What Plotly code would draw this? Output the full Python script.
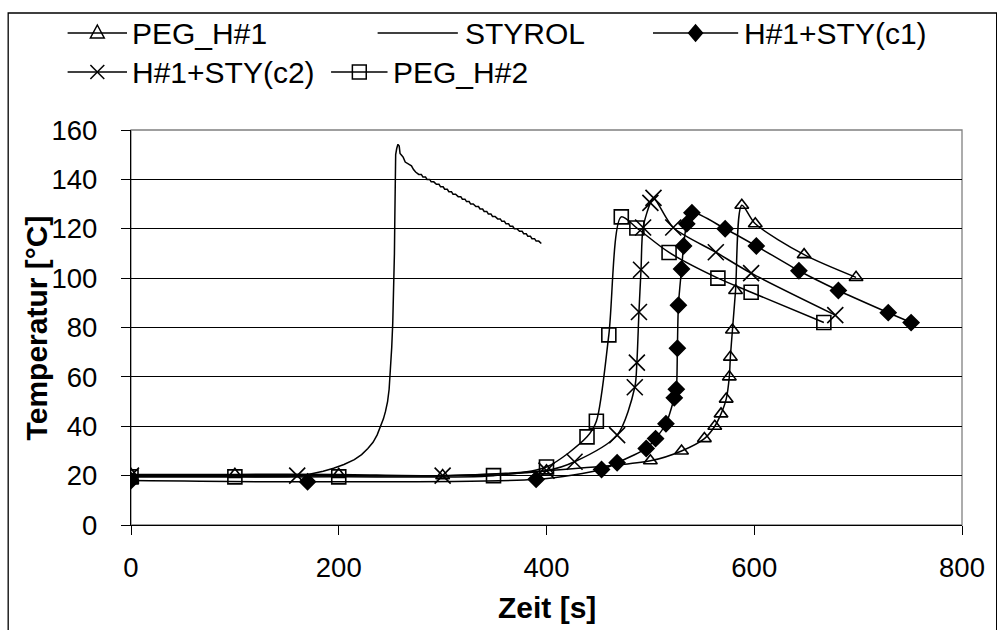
import plotly.graph_objects as go

# ---------------- data ----------------
peg_h1_t = [0, 100, 200, 300, 400, 500, 530, 552, 562, 568, 573, 576, 577, 579, 582, 588, 601, 648, 698]
peg_h1_T = [20.5, 20.5, 20.5, 20, 22, 26, 30, 35, 40, 45, 51, 60, 68, 79, 95, 129.5, 122, 109.5, 100.3]

styrol_t = [0, 30, 60, 90, 120, 150, 165, 175, 185, 195, 205, 215, 222, 228, 233, 237, 240, 243, 245,
            247, 248.5, 250, 251, 252, 253, 253.6, 254, 254.3, 254.8, 255.8, 257, 258.2, 259, 260.5,
            262, 264, 266, 268, 270, 272, 274,
            277, 279.5, 281, 283.5, 285, 287.5, 289, 291.5, 294, 296.5, 298, 300.5, 302, 304.5,
            306, 308.5, 310, 312.5, 315, 317.5, 319, 321.5, 323, 325.5, 327, 329.5, 332, 334.5,
            336, 338.5, 340, 342.5, 344, 346.5, 348, 350.5, 353, 355.5, 357, 359.5, 361, 363.5,
            365, 367.5, 369, 371.5, 374, 376.5, 378, 380.5, 382, 384.5, 386, 388.5, 390, 392.5, 395]
styrol_T = [19.5, 19.5, 19.5, 19.5, 19.5, 19.6, 20, 20.8, 21.8, 23, 24.5, 26.5, 28.5, 31, 33.5, 36.5, 39.5, 43, 46,
            50, 55, 63, 72, 82, 95, 110, 125, 145, 150, 152.5, 154.2, 153.5, 150.5, 149.8,
            149, 147, 146.5, 146, 145.5, 144, 143,
            142, 142, 141, 141, 140, 140, 139, 139, 138, 138, 137, 137, 136, 136,
            135, 135, 134, 134, 133, 133, 132, 132, 131, 131, 130, 130, 129, 129,
            128, 128, 127, 127, 126, 126, 125, 125, 124, 124, 123, 123, 122, 122,
            121, 121, 120, 120, 119, 119, 118, 118, 117, 117, 116, 116, 115, 115, 114]

c1_t = [0, 170, 390, 453, 468, 496, 505, 515, 523, 525, 526, 527, 530, 532, 535, 540, 572, 602, 643, 681, 729, 751]
c1_T = [18, 17.5, 18.5, 22.5, 25.2, 31, 35, 41, 51.5, 55, 71.6, 89, 103.7, 113, 122, 126.5, 120, 113, 103, 95, 86, 82]

c2_t = [0, 160, 300, 400, 427, 468, 485, 487, 489, 491, 493, 500, 503, 522, 563, 597, 678]
c2_T = [20, 20, 20, 22, 25.6, 36.4, 55.8, 65.8, 86.3, 103.4, 120.5, 130.5, 132.5, 120.5, 110.5, 102, 85]

peg_h2_t = [0, 100, 200, 349, 400, 439, 448, 460, 472, 487, 518, 565, 597, 667]
peg_h2_T = [19.5, 19.5, 19.5, 20, 23.5, 35.7, 42, 77, 124.8, 120.3, 110.4, 100, 94.3, 82]

x_ticks = [0, 200, 400, 600, 800]
y_ticks = [0, 20, 40, 60, 80, 100, 120, 140, 160]
x_title = "Zeit [s]"
y_title = "Temperatur [°C]"

# ---------------- layout geometry (pixels) ----------------
W, H = 997, 630
L, R, T, B = 131, 970, 130, 525
XMAX, YMAX = 800, 160
FONT = "Liberation Sans, Arial, sans-serif"


def px(x):
    return (x - L) / (R - L)


def py(y):
    return (B - y) / (B - T)


series = [
    ("PEG_H#1", peg_h1_t, peg_h1_T, "triangle-up-open", 12, "spline"),
    ("STYROL", styrol_t, styrol_T, None, 0, "linear"),
    ("H#1+STY(c1)", c1_t, c1_T, "diamond", 12, "spline"),
    ("H#1+STY(c2)", c2_t, c2_T, "x-thin-open", 16, "spline"),
    ("PEG_H#2", peg_h2_t, peg_h2_T, "square-open", 14, "spline"),
]

fig = go.Figure()
for name, xs, ys, sym, size, shape in series:
    if sym is None:
        fig.add_trace(go.Scatter(x=xs, y=ys, mode="lines", name=name,
                                 line=dict(color="black", width=1.5, shape=shape),
                                 showlegend=False))
    else:
        fig.add_trace(go.Scatter(x=xs, y=ys, mode="lines+markers", name=name,
                                 line=dict(color="black", width=1.5, shape=shape, smoothing=0.8),
                                 marker=dict(symbol=sym, size=size, color="black",
                                             line=dict(color="black", width=1.6)),
                                 showlegend=False))


# ---------------- manual legend (drawn as shapes + annotations) ----------------
def path(points, close=True):
    s = "M " + " L ".join(f"{px(x):.5f},{py(y):.5f}" for x, y in points)
    return s + (" Z" if close else "")


def legend_symbol(kind, cx, cy):
    base = dict(type="path", xref="paper", yref="paper", line=dict(color="black", width=1.5))
    if kind == "triangle":
        return [dict(base, path=path([(cx, cy - 8), (cx + 7, cy + 5), (cx - 7, cy + 5)]))]
    if kind == "diamond":
        return [dict(base, fillcolor="black",
                     path=path([(cx, cy - 8), (cx + 7, cy), (cx, cy + 8), (cx - 7, cy)]))]
    if kind == "x":
        return [dict(base, path=path([(cx - 7, cy - 7), (cx + 7, cy + 7)], close=False)),
                dict(base, path=path([(cx - 7, cy + 7), (cx + 7, cy - 7)], close=False))]
    if kind == "square":
        return [dict(base, path=path([(cx - 7, cy - 7), (cx + 7, cy - 7), (cx + 7, cy + 7), (cx - 7, cy + 7)]))]
    return []


# (label, symbol kind, row center y, line x0, line x1, text x) in pixels
legend_layout = [
    ("PEG_H#1", "triangle", 33, 67, 127, 130),
    ("STYROL", None, 33, 380, 461, 466),
    ("H#1+STY(c1)", "diamond", 33, 658, 744, 748),
    ("H#1+STY(c2)", "x", 72, 67, 127, 130),
    ("PEG_H#2", "square", 72, 333, 390, 394),
]
shapes = []
annotations = []
for label, kind, yc, x0, x1, tx in legend_layout:
    shapes.append(dict(type="line", xref="paper", yref="paper",
                       x0=px(x0), x1=px(x1), y0=py(yc), y1=py(yc),
                       line=dict(color="black", width=1.5)))
    shapes.extend(legend_symbol(kind, (x0 + x1) / 2, yc))
    annotations.append(dict(text=label, xref="paper", yref="paper", x=px(tx), y=py(yc),
                            xanchor="left", yanchor="middle", showarrow=False,
                            font=dict(family=FONT, size=30, color="black")))

# outer chart frame
shapes.append(dict(type="rect", xref="paper", yref="paper",
                   x0=px(7), x1=px(1005), y0=py(13), y1=py(640),
                   line=dict(color="black", width=1.3), layer="below"))
# plot area border (grey)
shapes.append(dict(type="rect", xref="paper", yref="paper",
                   x0=0, x1=1, y0=0, y1=1, line=dict(color="#808080", width=1.3), layer="below"))

# axis titles
annotations.append(dict(text=f"<b>{x_title}</b>", xref="paper", yref="paper",
                        x=0.5, y=py(607), xanchor="center", yanchor="middle", showarrow=False,
                        font=dict(family=FONT, size=30, color="black")))
annotations.append(dict(text=f"<b>{y_title}</b>", xref="paper", yref="paper",
                        x=px(36), y=0.5, xanchor="center", yanchor="middle", showarrow=False,
                        textangle=-90, font=dict(family=FONT, size=30, color="black")))

fig.update_layout(
    width=W, height=H,
    margin=dict(l=L, r=W - R, t=T, b=H - B),
    paper_bgcolor="white", plot_bgcolor="white",
    showlegend=False,
    shapes=shapes, annotations=annotations,
    xaxis=dict(range=[0, XMAX], tickvals=x_ticks, ticks="outside", ticklen=9, tickcolor="black",
               showline=True, linecolor="black", linewidth=1.3, showgrid=False, zeroline=False,
               tickfont=dict(family=FONT, size=27.5, color="black"), ticklabelstandoff=9),
    yaxis=dict(range=[0, YMAX], tickvals=y_ticks, ticks="outside", ticklen=9, tickcolor="black",
               showline=True, linecolor="black", linewidth=1.3, showgrid=True, gridcolor="black",
               gridwidth=1, zeroline=False,
               tickfont=dict(family=FONT, size=27.5, color="black"), ticklabelstandoff=18),
)

fig.write_html("out.html")
